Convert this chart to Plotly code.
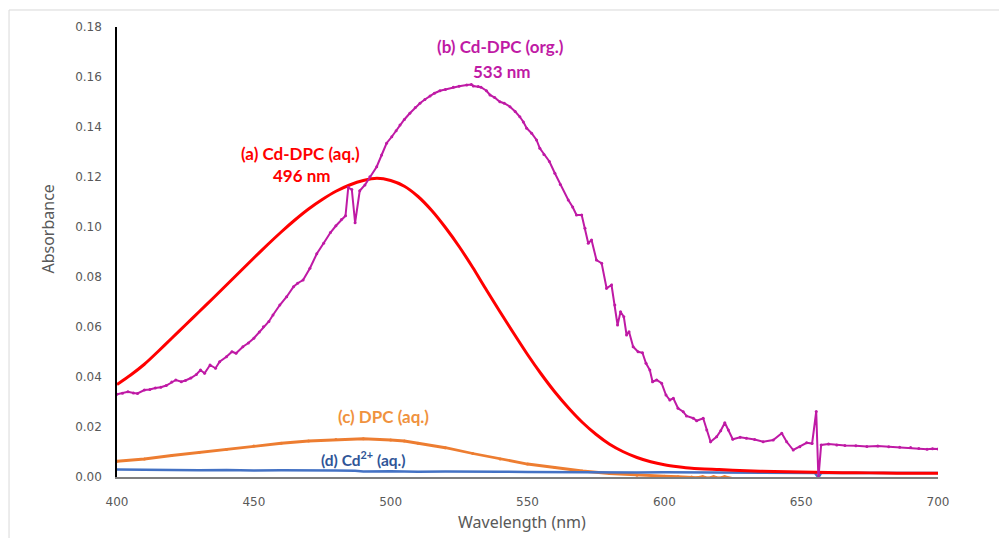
import plotly.graph_objects as go

# (a) Cd-DPC (aq.)
wl_a = [400, 405, 410, 415, 420, 425, 430, 435, 440, 445, 450, 455, 460, 465, 470, 475, 480, 485, 490, 495,
        500, 505, 510, 515, 520, 525, 530, 535, 540, 545, 550, 555, 560, 565, 570, 575, 580, 585, 590, 595,
        600, 605, 610, 620, 630, 640, 650, 660, 670, 680, 690, 700]
abs_a = [0.0370, 0.0408, 0.0451, 0.0502, 0.0555, 0.0608, 0.0661, 0.0714, 0.0768, 0.0822, 0.0876, 0.0929,
         0.0980, 0.1028, 0.1072, 0.1110, 0.1143, 0.1168, 0.1186, 0.1195, 0.1186, 0.1163, 0.1122, 0.1066,
         0.0998, 0.0922, 0.0838, 0.0748, 0.0660, 0.0574, 0.0490, 0.0412, 0.0340, 0.0276, 0.0219, 0.0171,
         0.0131, 0.0101, 0.0078, 0.0061, 0.0049, 0.0041, 0.0035, 0.0030, 0.0025, 0.0022, 0.0020, 0.0018,
         0.0017, 0.0016, 0.0015, 0.0015]

# (b) Cd-DPC (org.)
wl_b = [400, 402, 404, 406, 407.5, 410, 412, 414, 416, 418, 420, 421.5, 423.5, 425, 427, 429, 430.5, 432,
        434, 436, 437.5, 440, 442, 443.5, 446, 448, 450, 452, 453.5, 455.5, 457, 459.5, 462, 464.5, 466,
        468, 470.5, 473, 475.5, 478, 480, 482, 483.5, 484.5, 485.8, 487, 488.7, 490.6, 492.4, 494.9,
        496.7, 498.5, 500.4, 502, 503.4, 505, 507, 509, 510.7, 512.5, 514.4, 516, 518, 520, 522.9, 525,
        527.8, 529.5, 530.2, 532, 533, 535, 536.3, 538, 539.9, 541.5, 543.6, 545.5, 547.2, 548.5, 549.7,
        551.5, 553.3, 554.5, 556, 558, 560, 562, 564.9, 566.5, 567.9, 569.8, 571, 572.2, 573.4, 575.2,
        577.1, 578.9, 580.7, 581.9, 582.9, 584, 585.2, 586.2, 587.1, 588.6, 590.4, 592, 593.3, 594.7,
        595.7, 597.2, 599, 600.6, 602, 603.3, 605, 606.9, 608.1, 610.6, 611.8, 614.2, 615.5, 616.9,
        619.1, 620.6, 622.1, 623.4, 625, 627.7, 630, 633, 636.1, 639.8, 642.9, 644.7, 647.1, 649.5, 652,
        654, 655.5, 656.3, 657.3, 660, 663, 666, 670, 674, 678, 682, 686, 690, 693, 696, 698, 700]
abs_b = [0.0331, 0.0335, 0.0341, 0.0336, 0.0334, 0.0348, 0.0350, 0.0356, 0.0359, 0.0366, 0.0380, 0.0388,
         0.0381, 0.0386, 0.0396, 0.0410, 0.0428, 0.0415, 0.0448, 0.0435, 0.0461, 0.0481, 0.0501, 0.0495,
         0.0521, 0.0536, 0.0555, 0.0580, 0.0601, 0.0622, 0.0648, 0.0688, 0.0721, 0.0761, 0.0775, 0.0788,
         0.0835, 0.0893, 0.0935, 0.0978, 0.1005, 0.1030, 0.1045, 0.1158, 0.1150, 0.1017, 0.1145, 0.1168,
         0.1201, 0.1241, 0.1288, 0.1335, 0.1361, 0.1385, 0.1408, 0.1430, 0.1455, 0.1478, 0.1495, 0.1510,
         0.1524, 0.1535, 0.1545, 0.1550, 0.1559, 0.1563, 0.1568, 0.1570, 0.1564, 0.1562, 0.1559, 0.1545,
         0.1528, 0.1518, 0.1501, 0.1495, 0.1481, 0.1462, 0.1441, 0.1420, 0.1395, 0.1375, 0.1348, 0.1315,
         0.1290, 0.1262, 0.1215, 0.1170, 0.1108, 0.1080, 0.1048, 0.1048, 0.0995, 0.0935, 0.0948, 0.0868,
         0.0855, 0.0755, 0.0768, 0.0688, 0.0608, 0.0661, 0.0641, 0.0568, 0.0581, 0.0521, 0.0501, 0.0497,
         0.0455, 0.0428, 0.0381, 0.0388, 0.0375, 0.0328, 0.0308, 0.0315, 0.0275, 0.0261, 0.0244, 0.0235,
         0.0225, 0.0235, 0.0188, 0.0141, 0.0161, 0.0185, 0.0217, 0.0188, 0.0151, 0.0159, 0.0155, 0.0150,
         0.0141, 0.0148, 0.0175, 0.0141, 0.0108, 0.0121, 0.0137, 0.0134, 0.0262, -0.0005, 0.0128, 0.0132,
         0.0128, 0.0126, 0.0125, 0.0122, 0.0124, 0.0121, 0.0119, 0.0118, 0.0114, 0.0111, 0.0113, 0.0112]

# (c) DPC (aq.)
wl_c = [400, 410, 420, 430, 440, 450, 460, 470, 480, 490, 500, 505, 510, 520, 530, 540, 550, 560, 570,
        580, 590, 600, 605, 610, 612, 614, 616, 618, 620, 622, 625, 640, 660, 680, 700]
abs_c = [0.0063, 0.0072, 0.0086, 0.0098, 0.0110, 0.0124, 0.0135, 0.0144, 0.0150, 0.0153, 0.0148, 0.0144,
         0.0135, 0.0117, 0.0094, 0.0072, 0.0052, 0.0038, 0.0024, 0.0014, 0.0007, 0.0003, 0.0001, 0.0000,
         -0.0003, 0.0001, -0.0004, 0.0001, -0.0004, 0.0001, -0.0006, -0.0010, -0.0012, -0.0014, -0.0015]

# (d) Cd2+ (aq.)
wl_d = [400, 410, 420, 430, 440, 450, 460, 470, 480, 487, 490, 500, 510, 520, 530, 540, 550, 560, 570,
        580, 590, 600, 610, 620, 630, 640, 650, 655, 656.3, 657.3, 660, 670, 680, 690, 700]
abs_d = [0.0030, 0.0028, 0.0029, 0.0027, 0.0028, 0.0026, 0.0027, 0.0025, 0.0026, 0.0025, 0.0022, 0.0023,
         0.0021, 0.0022, 0.0020, 0.0021, 0.0020, 0.0019, 0.0020, 0.0019, 0.0018, 0.0019, 0.0018, 0.0018,
         0.0017, 0.0018, 0.0017, 0.0016, -0.0002, 0.0016, 0.0017, 0.0016, 0.0017, 0.0016, 0.0016]

x_ticks = [400, 450, 500, 550, 600, 650, 700]
y_ticks = [0.00, 0.02, 0.04, 0.06, 0.08, 0.10, 0.12, 0.14, 0.16, 0.18]

RED = "#FF0000"
PURPLE = "#BF1AA5"
ORANGE = "#ED7D31"
BLUE = "#4472C4"

fig = go.Figure()
fig.add_trace(go.Scatter(x=wl_c, y=abs_c, mode="lines+markers", line=dict(color=ORANGE, width=2.8),
                         marker=dict(size=3, color=ORANGE), showlegend=False))
fig.add_trace(go.Scatter(x=wl_d, y=abs_d, mode="lines", line=dict(color=BLUE, width=2.5), showlegend=False))
fig.add_trace(go.Scatter(x=wl_a, y=abs_a, mode="lines", line=dict(color=RED, width=3, shape="spline",
                                                                 smoothing=0.6), showlegend=False))
fig.add_trace(go.Scatter(x=wl_b, y=abs_b, mode="lines+markers", line=dict(color=PURPLE, width=2),
                         marker=dict(size=3, color=PURPLE), showlegend=False))

tick_font = dict(family="DejaVu Sans", size=12, color="#595959")
title_font = dict(family="Noto Sans", size=16, color="#595959")

# the page body has an 8px margin: figure occupies x 8..1007, y 8..538
# plot area: x 117..938, y 27..477 in page pixels
fig.update_layout(
    width=999, height=530,
    margin=dict(l=109, r=69, t=19, b=61),
    paper_bgcolor="white", plot_bgcolor="white",
    xaxis=dict(range=[400, 700], tickvals=x_ticks, ticktext=[str(v) for v in x_ticks],
               showgrid=False, zeroline=False, showline=True, linecolor="#7f7f7f", linewidth=2,
               ticks="", tickfont=tick_font, ticklabelstandoff=13),
    yaxis=dict(range=[0, 0.18], tickvals=y_ticks, ticktext=["%.2f" % v for v in y_ticks],
               showgrid=False, zeroline=False, showline=True, linecolor="black", linewidth=1.5,
               ticks="", tickfont=tick_font, ticklabelstandoff=11),
)

fig.add_annotation(x=-0.084, y=0.55, xref="paper", yref="paper", text="Absorbance", textangle=-90,
                   showarrow=False, font=title_font, xanchor="center", yanchor="middle")
fig.add_annotation(x=0.4933, y=-0.1, xref="paper", yref="paper", text="Wavelength (nm)",
                   showarrow=False, font=title_font, xanchor="center", yanchor="middle")

anns = [
    ("(b) Cd-DPC (org.)", 540.3, 0.1721, PURPLE, 17),
    ("533 nm", 540.7, 0.1621, PURPLE, 17),
    ("(a) Cd-DPC (aq.)", 467.2, 0.1296, RED, 17),
    ("496 nm", 467.6, 0.1208, RED, 17),
    ("(c) DPC (aq.)", 497.2, 0.0241, "#F0923E", 17),
    ("(d) Cd<sup>2+</sup> (aq.)", 490.2, 0.0075, "#2F5597", 15.5),
]
for text, ax, ay, col, sz in anns:
    fig.add_annotation(x=ax, y=ay, xref="x", yref="y", text="<b>" + text + "</b>", showarrow=False,
                       font=dict(family="Lato", size=sz, color=col), xanchor="center", yanchor="middle")

# light chart border
fig.add_shape(type="rect", xref="paper", yref="paper", x0=-0.1315, x1=1.0755, y0=-0.2, y1=1.0378,
              line=dict(color="#d9d9d9", width=1), fillcolor="rgba(0,0,0,0)", layer="below")

fig.write_html("out.html")
